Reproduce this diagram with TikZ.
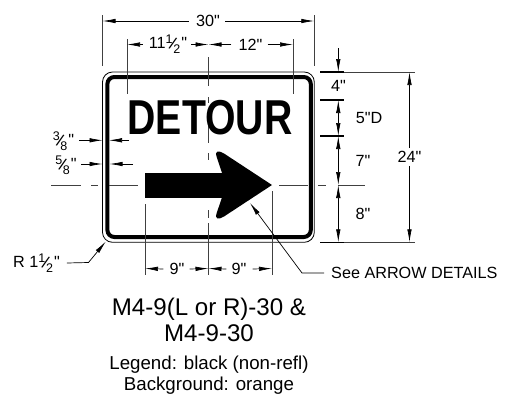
\documentclass[tikz,border=0pt]{standalone}
\usepackage{fontspec}
\newfontfamily\signfont{Liberation Sans}
\usetikzlibrary{arrows.meta}
\tikzset{
    dimline/.style={draw=black, line width=0.7pt},
    tip/.style={dimline, -{Latex[length=13pt,width=4.5pt]}},
    both/.style={dimline, {Latex[length=13pt,width=4.5pt]}-{Latex[length=13pt,width=4.5pt]}},
    extline/.style={draw=black!75, line width=0.7pt},
    heavytick/.style={draw=black, line width=1.1pt},
    dimtext/.style={font=\signfont\fontsize{16.2}{18}\selectfont, inner sep=5pt},
}
\newcommand{\dimfrac}[2]{\raisebox{5pt}{\fontsize{12.5}{12.5}\selectfont #1}\kern-4pt\raisebox{-1pt}{\fontsize{17}{17}\selectfont\rotatebox[origin=c]{-20}{/}}\kern-4pt\raisebox{-5pt}{\fontsize{12.5}{12.5}\selectfont #2}\kern1pt}
\begin{document}
\begin{tikzpicture}[x=1pt, y=-1pt]
    \useasboundingbox (0,0) rectangle (507,402);
    % Sign panel
    \draw[line width=0.8pt] (102.5,72) [rounded corners=10pt] rectangle (314.3,242.3);
    \draw[line width=4pt, rounded corners=7pt] (107.4,77) rectangle (310.8,237);
    % Center lines
    \foreach \from/\to in {57/86, 97/103, 110/143, 153/160, 210/218, 223/275} {
        \draw[extline] (208.5,\from) -- (208.5,\to);
    }
    \foreach \from/\to in {51/81, 91/98, 109/138, 279/308, 318/326, 338/365} {
        \draw[extline] (\from,185) -- (\to,185);
    }
    % Legend
    \node[font=\signfont\bfseries\fontsize{49}{49}\selectfont, inner sep=0pt] (legend) at (210,117.5) {\scalebox{0.8}[1]{DETOUR}};
    \fill (145,173) rectangle (224,197.5);
    \fill (222,173) -- (216.7,157) .. controls (214.5,150) and (219,150.5) .. (224,153.5) -- (272,185) -- (224,216.5) .. controls (219,219.5) and (214.5,220) .. (216.7,213) -- (222,197.5) -- cycle;
    % Extension lines
    \foreach \xpos/\top/\bottom in {102.5/15/66, 314.3/15/66, 127/39/94, 293/39/94, 145/204/275, 272/191/275} {
        \draw[extline] (\xpos,\top) -- (\xpos,\bottom);
    }
    \foreach \ypos/\left/\right in {72/320/415, 242.3/320/415} {
        \draw[extline] (\left,\ypos) -- (\right,\ypos);
    }
    \foreach \ypos in {72, 100, 136, 242.3} {
        \draw[heavytick] (320,\ypos) -- (344,\ypos);
    }
    % Named ends of the dimension lines
    \coordinate (wideL) at (102.5,21);
    \coordinate (wideR) at (314.3,21);
    \coordinate (upL) at (127,44.5);
    \coordinate (upM) at (208.5,44.5);
    \coordinate (upR) at (293,44.5);
    \coordinate (lowL) at (145,268.5);
    \coordinate (lowM) at (208.5,268.5);
    \coordinate (lowR) at (272,268.5);
    \coordinate (capA) at (338.3,72);
    \coordinate (capAtop) at (338.3,48);
    \coordinate (capB) at (338.3,100);
    \coordinate (capC) at (338.3,136);
    \coordinate (capD) at (338.3,185);
    \coordinate (capE) at (338.3,242.3);
    \coordinate (tallT) at (409.5,72);
    \coordinate (tallB) at (409.5,242.3);
    \coordinate (edgeAfar) at (79,140.3);
    \coordinate (edgeA) at (102.5,140.3);
    \coordinate (edgeAin) at (109,140.3);
    \coordinate (edgeAback) at (129,140.3);
    \coordinate (edgeBfar) at (81,164);
    \coordinate (edgeB) at (102.5,164);
    \coordinate (edgeBin) at (109.5,164);
    \coordinate (edgeBback) at (133,164);
    \coordinate (cornerBend) at (88.5,262.5);
    \coordinate (cornerTip) at (105.8,241.5);
    \coordinate (arrowBend) at (302,273);
    \coordinate (arrowTip) at (250,203);
    % Dimension labels
    \node[dimtext, inner sep=0pt] (wide) at (208,21) {30"};
    \node[dimtext, inner sep=0pt] (upLeft) at (168,44.5) {11\dimfrac{1}{2}"};
    \node[dimtext, inner sep=0pt] (upRight) at (250.5,44.5) {12"};
    \node[dimtext, inner sep=0pt] (lowLeft) at (177,269) {9"};
    \node[dimtext, inner sep=0pt] (lowRight) at (239,269) {9"};
    \node[dimtext] (capTop) at (338.5,86) {4"};
    \node[dimtext] (capHigh) at (369,118.5) {5"D};
    \node[dimtext] (capMid) at (363,161) {7"};
    \node[dimtext] (capLow) at (363,214) {8"};
    \node[dimtext, inner sep=3pt] (tall) at (409.5,157) {24"};
    \node[dimtext, inner sep=0pt] (edgeOut) at (63.5,141) {\dimfrac{3}{8}"};
    \node[dimtext, inner sep=0pt] (edgeIn) at (66,165) {\dimfrac{5}{8}"};
    \node[dimtext, inner sep=0pt] (corner) at (36.5,263) {R 1\dimfrac{1}{2}"};
    \node[dimtext, inner sep=0pt, anchor=west] (detail) at (331,273) {See ARROW DETAILS};
    % Dimension lines
    \draw[tip] ([xshift=-7pt]wide.west) -- (wideL);
    \draw[tip] ([xshift=5pt]wide.east) -- (wideR);
    \draw[tip] ([xshift=-6pt]upLeft.west) -- (upL);
    \draw[tip] ([xshift=4pt]upLeft.east) -- (upM);
    \draw[tip] ([xshift=-7pt]upRight.west) -- (upM);
    \draw[tip] ([xshift=5pt]upRight.east) -- (upR);
    \draw[tip] ([xshift=-6pt]lowLeft.west) -- (lowL);
    \draw[tip] ([xshift=5pt]lowLeft.east) -- (lowM);
    \draw[tip] ([xshift=-5pt]lowRight.west) -- (lowM);
    \draw[tip] ([xshift=6pt]lowRight.east) -- (lowR);
    \draw[tip] (capAtop) -- (capA);
    \draw[both] (capB) -- (capC);
    \draw[both] (capC) -- (capD);
    \draw[both] (capD) -- (capE);
    \draw[tip] (tall.north) -- (tallT);
    \draw[tip] (tall.south) -- (tallB);
    \draw[tip] (edgeAfar) -- (edgeA);
    \draw[tip] (edgeAback) -- (edgeAin);
    \draw[tip] (edgeBfar) -- (edgeB);
    \draw[tip] (edgeBback) -- (edgeBin);
    \draw[tip] ([xshift=7pt]corner.east) -- (cornerBend) -- (cornerTip);
    \draw[tip] ([xshift=-7pt]detail.west) -- (arrowBend) -- (arrowTip);
    % Sign designation
    \node[font=\signfont\fontsize{24.1}{26}\selectfont, align=center, inner sep=0pt] (title) at (209,320) {M4-9(L or R)-30 \&\\M4-9-30};
    \node[font=\signfont\fontsize{18.7}{21}\selectfont, align=center, inner sep=0pt] (note) at (209,375) {Legend: black (non-refl)\\Background: orange};
\end{tikzpicture}
\end{document}
